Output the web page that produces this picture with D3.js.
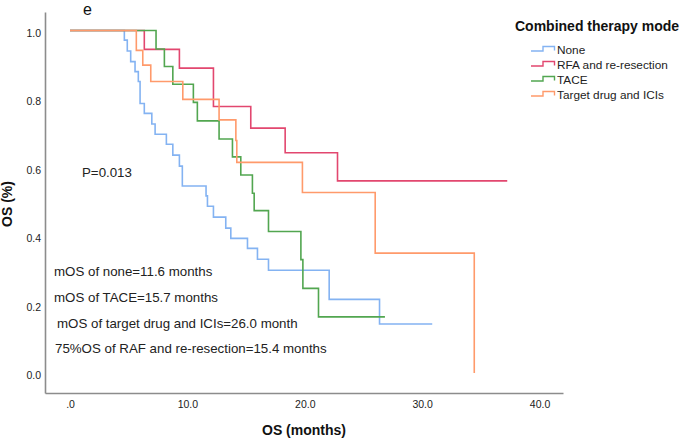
<!DOCTYPE html>
<html>
<head>
<meta charset="utf-8">
<script src="https://cdn.jsdelivr.net/npm/d3@7"></script>
<style>
  html, body { margin: 0; padding: 0; background: #fff; }
  svg { display: block; font-family: "Liberation Sans", Arial, sans-serif; }
</style>
</head>
<body>
<svg id="chart" width="685" height="439"></svg>
<script>
// ---- data ----
const groups = ["None", "RFA and re-resection", "TACE", "Target drug and ICIs"];
const groupColors = ["#84b3f2", "#e2476f", "#52a650", "#ff9a6b"];

const noneTimes = [4.63, 4.88, 5.17, 5.54, 5.82, 5.97, 6.33, 6.97, 7.25, 8.21, 8.76, 9.32, 9.57, 11.59, 11.71, 12.22, 13.27, 13.70, 15.12, 15.97, 16.91, 22.08, 26.37];
const noneSurv  = [0.972, 0.940, 0.909, 0.880, 0.851, 0.787, 0.758, 0.727, 0.697, 0.668, 0.636, 0.604, 0.546, 0.517, 0.487, 0.455, 0.423, 0.393, 0.364, 0.332, 0.300, 0.215, 0.143];
const noneEnd = 30.86;

const rfaTimes = [6.33, 9.32, 12.22, 15.40, 18.33, 22.79];
const rfaSurv  = [0.945, 0.890, 0.778, 0.715, 0.643, 0.561];
const rfaEnd = 37.25;

const taceTimes = [7.33, 8.04, 8.76, 10.51, 10.85, 12.70, 13.84, 14.55, 15.54, 15.69, 16.91, 19.67, 19.84, 21.17];
const taceSurv  = [0.946, 0.895, 0.843, 0.790, 0.736, 0.683, 0.631, 0.578, 0.525, 0.474, 0.413, 0.331, 0.247, 0.164];
const taceEnd = 26.83;

const targetTimes = [5.65, 6.20, 6.88, 9.61, 12.70, 14.13, 14.21, 19.80, 26.00, 34.44];
const targetSurv  = [0.942, 0.899, 0.851, 0.799, 0.739, 0.679, 0.615, 0.527, 0.350, 0.0];
const targetEnd = 34.44;

const xTicks = [0, 10, 20, 30, 40];
const yTicks = [0, 0.2, 0.4, 0.6, 0.8, 1.0];

const annotations = [
  "P=0.013",
  "mOS of none=11.6 months",
  "mOS of TACE=15.7 months",
  "mOS of target drug and ICIs=26.0 month",
  "75%OS of RAF and re-resection=15.4 months"
];

// ---- build ----
const svg = d3.select("#chart");
const x = d3.scaleLinear().domain([-2.13, 42]).range([45, 563]);
const y = d3.scaleLinear().domain([-0.0584, 1.054]).range([393, 12]);

const axisColor = "#8c8c8c";

// x axis
const gx = svg.append("g").attr("transform", "translate(0,393)")
  .call(d3.axisBottom(x).tickValues(xTicks).tickSize(0).tickPadding(8)
    .tickFormat(d => d === 0 ? ".0" : d3.format(".1f")(d)));
gx.select(".domain").attr("stroke", axisColor).attr("stroke-width", 1.6);
gx.selectAll("text").attr("font-size", "10.5px").attr("fill", "#222")
  .attr("font-family", "Liberation Sans, Arial, sans-serif");

// y axis
const gy = svg.append("g").attr("transform", "translate(45,0)")
  .call(d3.axisLeft(y).tickValues(yTicks).tickSize(0).tickPadding(4)
    .tickFormat(d3.format(".1f")));
gy.select(".domain").attr("stroke", axisColor).attr("stroke-width", 1.6);
gy.selectAll("text").attr("font-size", "10.5px").attr("fill", "#222").attr("dy", "0.54em")
  .attr("font-family", "Liberation Sans, Arial, sans-serif");

// curves
const series = [
  { times: noneTimes, surv: noneSurv, end: noneEnd },
  { times: rfaTimes, surv: rfaSurv, end: rfaEnd },
  { times: taceTimes, surv: taceSurv, end: taceEnd },
  { times: targetTimes, surv: targetSurv, end: targetEnd }
];
const line = d3.line().x(d => x(d[0])).y(d => y(d[1])).curve(d3.curveStepAfter);
series.forEach((s, i) => {
  const pts = [[0, 1]];
  s.times.forEach((t, j) => pts.push([t, s.surv[j]]));
  const last = pts[pts.length - 1];
  if (s.end > last[0]) pts.push([s.end, last[1]]);
  svg.append("path").attr("d", line(pts)).attr("fill", "none")
    .attr("stroke", groupColors[i]).attr("stroke-width", 1.6);
});

// annotations
const annX = [82, 54, 54, 57, 55];
const annY = [177, 276, 301.5, 327.5, 353];
annotations.forEach((a, i) => {
  svg.append("text").attr("x", annX[i]).attr("y", annY[i]).attr("font-size", "13.3px")
    .attr("fill", "#222").text(a);
});

// panel letter
svg.append("text").attr("x", 83).attr("y", 15).attr("font-size", "16px").attr("fill", "#111").text("e");

// axis titles
svg.append("text").attr("x", 304).attr("y", 435).attr("text-anchor", "middle")
  .attr("font-size", "14px").attr("font-weight", "bold").attr("fill", "#111").text("OS (months)");
svg.append("text").attr("transform", "translate(12,204) rotate(-90)").attr("text-anchor", "middle")
  .attr("font-size", "14px").attr("font-weight", "bold").attr("fill", "#111").text("OS (%)");

// legend
svg.append("text").attr("x", 515).attr("y", 31).attr("font-size", "14px").attr("font-weight", "bold")
  .attr("fill", "#111").text("Combined therapy mode");
groups.forEach((g, i) => {
  const cy = 49.5 + i * 15;
  svg.append("path")
    .attr("d", `M531,${cy + 1.5}H543V${cy - 3}H554.5V${cy + 1}`)
    .attr("fill", "none").attr("stroke", groupColors[i]).attr("stroke-width", 1.4);
  svg.append("text").attr("x", 557).attr("y", cy + 4.2).attr("font-size", "11.8px")
    .attr("fill", "#222").text(g);
});
</script>
</body>
</html>
